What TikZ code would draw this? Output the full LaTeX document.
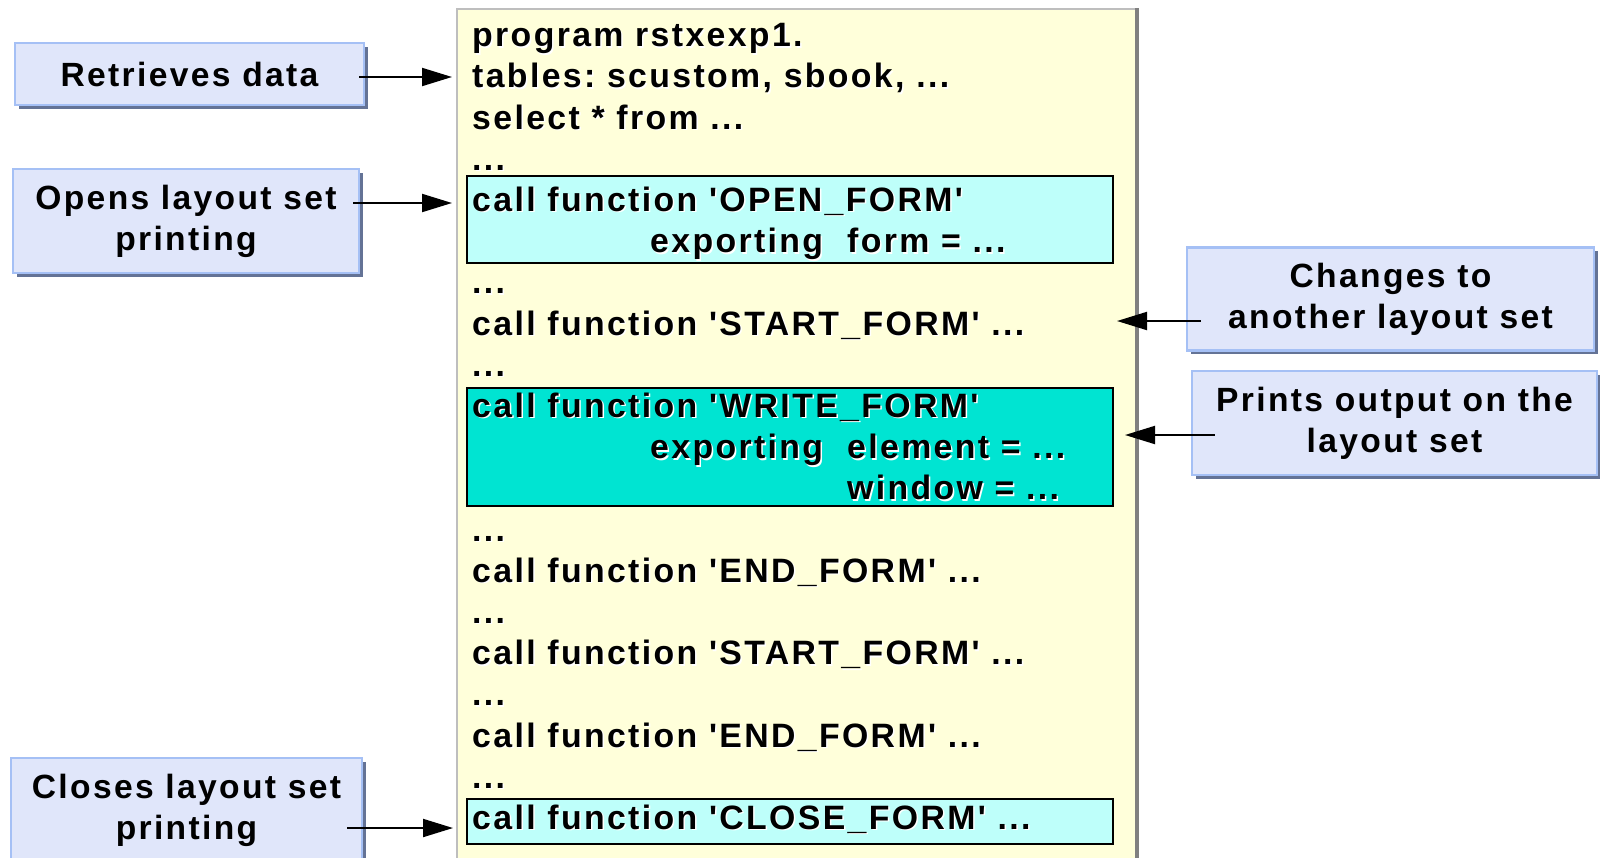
\documentclass[tikz,border=0pt]{standalone}
\usepackage{fontspec}
\setmainfont{Liberation Sans}[LetterSpace=7,Ligatures=TeXOff]
\usetikzlibrary{arrows.meta,calc,shadows}
\definecolor{lblfill}{RGB}{224,230,250}
\definecolor{lblborder}{RGB}{165,192,245}
\definecolor{lblshadow}{RGB}{100,115,150}
\definecolor{codefill}{RGB}{255,255,218}
\definecolor{codeborder}{RGB}{190,190,190}
\definecolor{codeedge}{RGB}{128,128,128}
\definecolor{hlight}{RGB}{190,255,250}
\definecolor{hdark}{RGB}{0,228,210}
\newcommand\wsh[1]{\makebox[0pt][l]{\hspace{1.5pt}\raisebox{-1.5pt}{\color{white}#1}}#1}
\frenchspacing
\begin{document}
\begin{tikzpicture}[x=1pt,y=-1pt,
  lbl/.style={draw=lblborder, line width=2.5pt, fill=lblfill, align=center, inner sep=0pt,
    font=\fontsize{33.6}{41}\selectfont\bfseries,
    general shadow={fill=lblshadow, shadow xshift=3.5pt, shadow yshift=-3.5pt}},
  codebox/.style={draw=codeborder, line width=2pt, fill=codefill, inner sep=0pt, anchor=north west},
  hlbox/.style={draw=black, line width=2pt, inner sep=0pt, anchor=north west, minimum width=646},
  ln/.style={anchor=base west, inner sep=0pt, font=\fontsize{33.8}{41}\selectfont\bfseries},
  arr/.style={line width=2pt, -{Triangle[length=30pt,width=18pt]}}]
\useasboundingbox (0,0) rectangle (1600,857);
\clip (0,0) rectangle (1600,857);
\fill[white] (0,0) rectangle (1600,857);

% code panel
\node[codebox, minimum width=679, minimum height=880] (code) at (456,8) {};
\draw[codeedge, line width=4pt] (code.north east) -- (code.south east);
\node[hlbox, fill=hlight, minimum height=87] (open) at (466,175) {};
\node[hlbox, fill=hdark, minimum height=118] (write) at (466,387) {};
\node[hlbox, fill=hlight, minimum height=45] (close) at (466,798) {};

% code lines
\pgfmathsetmacro{\bz}{46.6}
\def\dl{41.2}
\node[ln] (l0) at (472,{\bz+0*\dl}) {\wsh{program rstxexp1.}};
\node[ln] (l1) at (472,{\bz+1*\dl}) {\wsh{tables: scustom, sbook, ...}};
\node[ln] (l2) at (472,{\bz+2*\dl}) {\wsh{select * from ...}};
\node[ln] (l3) at (472,{\bz+3*\dl}) {\wsh{...}};
\node[ln] (l4) at (472,{\bz+4*\dl}) {\wsh{call function 'OPEN\_FORM'}};
\node[ln] (l5a) at (650,{\bz+5*\dl}) {\wsh{exporting}};
\node[ln] (l5b) at (847,{\bz+5*\dl}) {\wsh{form = ...}};
\node[ln] (l6) at (472,{\bz+6*\dl}) {\wsh{...}};
\node[ln] (l7) at (472,{\bz+7*\dl}) {\wsh{call function 'START\_FORM' ...}};
\node[ln] (l8) at (472,{\bz+8*\dl}) {\wsh{...}};
\node[ln] (l9) at (472,{\bz+9*\dl}) {\wsh{call function 'WRITE\_FORM'}};
\node[ln] (l10a) at (650,{\bz+10*\dl}) {\wsh{exporting}};
\node[ln] (l10b) at (847,{\bz+10*\dl}) {\wsh{element = ...}};
\node[ln] (l11) at (847,{\bz+11*\dl}) {\wsh{window = ...}};
\node[ln] (l12) at (472,{\bz+12*\dl}) {\wsh{...}};
\node[ln] (l13) at (472,{\bz+13*\dl}) {\wsh{call function 'END\_FORM' ...}};
\node[ln] (l14) at (472,{\bz+14*\dl}) {\wsh{...}};
\node[ln] (l15) at (472,{\bz+15*\dl}) {\wsh{call function 'START\_FORM' ...}};
\node[ln] (l16) at (472,{\bz+16*\dl}) {\wsh{...}};
\node[ln] (l17) at (472,{\bz+17*\dl}) {\wsh{call function 'END\_FORM' ...}};
\node[ln] (l18) at (472,{\bz+18*\dl}) {\wsh{...}};
\node[ln] (l19) at (472,{\bz+19*\dl}) {\wsh{call function 'CLOSE\_FORM' ...}};

% labels
\node[lbl, minimum width=349, minimum height=62] (ret) at (189.5,74) {Retrieves data};
\node[lbl, minimum width=346, minimum height=104] (opn) at (186,221) {Opens layout set\\printing};
\node[lbl, minimum width=351, minimum height=104] (cls) at (186.5,810) {Closes layout set\\printing};
\node[lbl, minimum width=407, minimum height=103] (chg) at (1390.5,299) {Changes to\\another layout set};
\node[lbl, minimum width=405, minimum height=104] (prt) at (1394.5,423) {Prints output on the\\layout set};

% arrow targets
\coordinate (retA) at (452,77);
\coordinate (opnA) at (452,203);
\coordinate (clsA) at (453,828);
\coordinate (chgA) at (1117,321);
\coordinate (prtA) at (1125,435);

\draw[arr] ($(ret.east |- retA)+(-6,0)$) -- (retA);
\draw[arr] ($(opn.east |- opnA)+(-7,0)$) -- (opnA);
\draw[arr] ($(cls.east |- clsA)+(-16,0)$) -- (clsA);
\draw[arr] ($(chg.west |- chgA)+(15,0)$) -- (chgA);
\draw[arr] ($(prt.west |- prtA)+(24,0)$) -- (prtA);
\end{tikzpicture}
\end{document}
